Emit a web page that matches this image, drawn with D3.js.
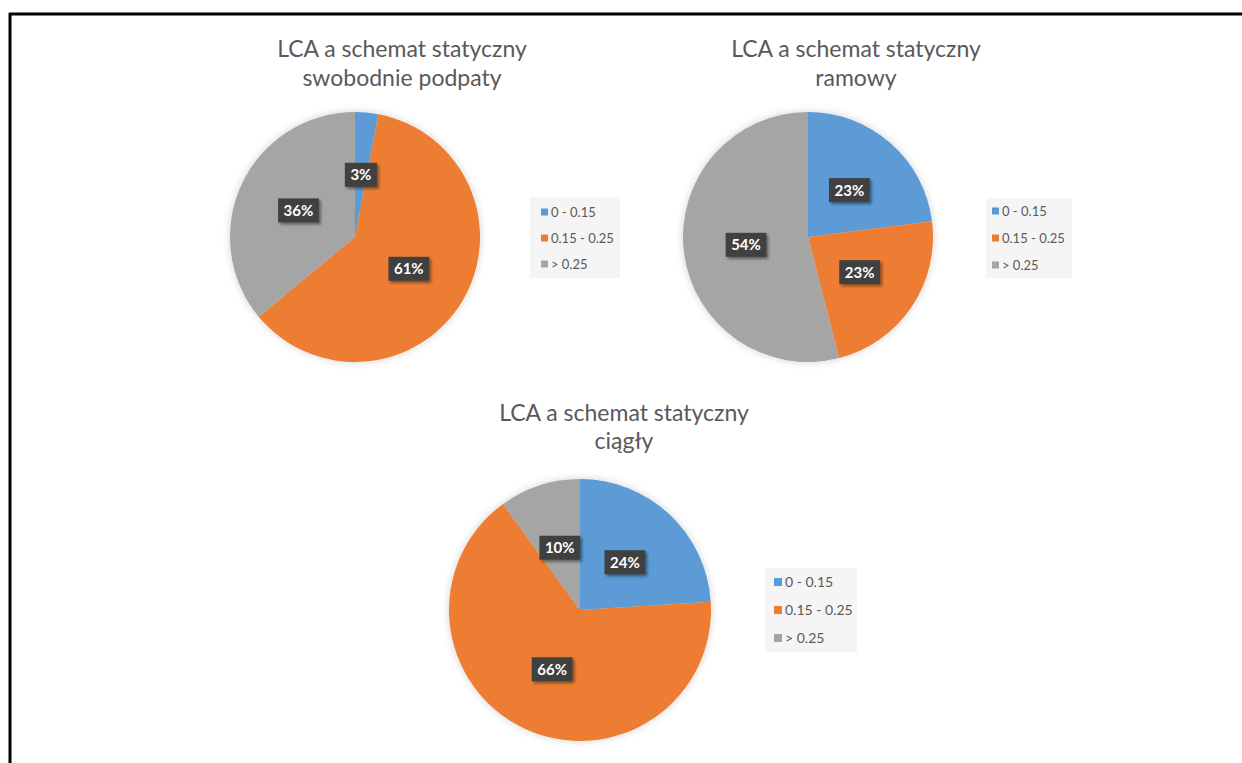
<!DOCTYPE html>
<html>
<head>
<meta charset="utf-8">
<script src="https://cdn.jsdelivr.net/npm/d3@7/dist/d3.min.js"></script>
<style>
  html, body { margin: 0; padding: 0; background: #ffffff; }
  svg { display: block; }
</style>
</head>
<body>
<svg id="chart" width="1242" height="763"></svg>
<script>
// Share of LCA index ranges for three structural schemes
const categories = ["0 - 0.15", "0.15 - 0.25", "> 0.25"];
const sliceColors = ["#5b9bd5", "#ed7d31", "#a5a5a5"];

const titleSwobodnie = ["LCA a schemat statyczny", "swobodnie podpaty"];
const titleRamowy = ["LCA a schemat statyczny", "ramowy"];
const titleCiagly = ["LCA a schemat statyczny", "ciągły"];

const valuesSwobodnie = [3, 61, 36];
const valuesRamowy = [23, 23, 54];
const valuesCiagly = [24, 66, 10];

// Placement of each pie panel
const panels = [
  { title: titleSwobodnie, values: valuesSwobodnie, cx: 355, cy: 237, r: 125,
    titleX: 402, titleY: 57, lineGap: 29, titleSize: 23,
    legend: { x: 530, y: 197, w: 90, h: 81, sq: 7, rows: [212, 238, 264], textX: 551, size: 13 } },
  { title: titleRamowy, values: valuesRamowy, cx: 808, cy: 237, r: 125,
    titleX: 856, titleY: 57, lineGap: 29, titleSize: 23,
    legend: { x: 986, y: 198, w: 86, h: 80, sq: 7, rows: [211, 238, 265], textX: 1002, size: 13 } },
  { title: titleCiagly, values: valuesCiagly, cx: 580, cy: 610, r: 131,
    titleX: 624, titleY: 421, lineGap: 28, titleSize: 23,
    legend: { x: 765, y: 568, w: 92, h: 84, sq: 8, rows: [582, 610, 638], textX: 785, size: 14 } }
];

const svg = d3.select("#chart");

const defs = svg.append("defs");
const pieShadow = defs.append("filter").attr("id", "pieShadow")
  .attr("x", "-20%").attr("y", "-20%").attr("width", "140%").attr("height", "140%");
pieShadow.append("feGaussianBlur").attr("in", "SourceAlpha").attr("stdDeviation", 4).attr("result", "b");
pieShadow.append("feComponentTransfer").attr("in", "b").attr("result", "s")
  .append("feFuncA").attr("type", "linear").attr("slope", 0.18);
const m1 = pieShadow.append("feMerge");
m1.append("feMergeNode").attr("in", "s");
m1.append("feMergeNode").attr("in", "SourceGraphic");

const boxShadow = defs.append("filter").attr("id", "boxShadow")
  .attr("x", "-30%").attr("y", "-40%").attr("width", "170%").attr("height", "190%");
boxShadow.append("feGaussianBlur").attr("in", "SourceAlpha").attr("stdDeviation", 1.5).attr("result", "b");
boxShadow.append("feOffset").attr("in", "b").attr("dx", 2).attr("dy", 2).attr("result", "o");
boxShadow.append("feComponentTransfer").attr("in", "o").attr("result", "s")
  .append("feFuncA").attr("type", "linear").attr("slope", 0.45);
const m2 = boxShadow.append("feMerge");
m2.append("feMergeNode").attr("in", "s");
m2.append("feMergeNode").attr("in", "SourceGraphic");

// Frame lines along the top and left edges
svg.append("line").attr("x1", 9).attr("y1", 14).attr("x2", 1242).attr("y2", 14)
  .attr("stroke", "#000").attr("stroke-width", 3);
svg.append("line").attr("x1", 10).attr("y1", 13).attr("x2", 10).attr("y2", 763)
  .attr("stroke", "#000").attr("stroke-width", 3);

const color = d3.scaleOrdinal().domain(categories).range(sliceColors);
const pie = d3.pie().sort(null).value(d => d.value);

panels.forEach(p => {
  const g = svg.append("g");

  // Title
  const title = g.append("text")
    .attr("x", p.titleX).attr("y", p.titleY)
    .attr("text-anchor", "middle")
    .attr("font-family", "Lato, 'Open Sans', sans-serif")
    .attr("font-size", p.titleSize)
    .attr("fill", "#595959");
  p.title.forEach((line, i) => {
    title.append("tspan").attr("x", p.titleX).attr("y", p.titleY + i * p.lineGap).text(line);
  });

  // Slices
  const data = categories.map((c, i) => ({ cat: c, value: p.values[i] }));
  const arcs = pie(data);
  const arc = d3.arc().innerRadius(0).outerRadius(p.r);

  const pg = g.append("g").attr("transform", `translate(${p.cx},${p.cy})`);
  pg.append("g").attr("filter", "url(#pieShadow)")
    .selectAll("path").data(arcs).join("path")
    .attr("d", arc)
    .attr("fill", d => color(d.data.cat));

  // Data labels in dark boxes
  const lbl = pg.selectAll("g.lbl").data(arcs).join("g").attr("class", "lbl")
    .attr("transform", d => `translate(${arc.centroid(d)})`);
  lbl.each(function (d) {
    const el = d3.select(this);
    const rect = el.append("rect").attr("fill", "#404040").attr("filter", "url(#boxShadow)");
    const t = el.append("text")
      .attr("text-anchor", "middle").attr("dy", "0.36em")
      .attr("font-family", "Lato, 'Open Sans', sans-serif")
      .attr("font-weight", 700).attr("font-size", 15)
      .attr("fill", "#ffffff")
      .text(d.data.value + "%");
    const w = t.node().getComputedTextLength() + 11;
    const h = 24;
    rect.attr("x", -w / 2).attr("y", -h / 2).attr("width", w).attr("height", h);
  });

  // Legend
  const L = p.legend;
  const lg = g.append("g");
  lg.append("rect").attr("x", L.x).attr("y", L.y).attr("width", L.w).attr("height", L.h)
    .attr("fill", "#f5f5f5");
  const items = lg.selectAll("g.item").data(categories).join("g").attr("class", "item");
  items.append("rect")
    .attr("x", L.textX - L.sq - 3)
    .attr("y", (d, i) => L.rows[i] - L.sq / 2)
    .attr("width", L.sq).attr("height", L.sq)
    .attr("fill", d => color(d));
  items.append("text")
    .attr("x", L.textX)
    .attr("y", (d, i) => L.rows[i])
    .attr("dy", "0.35em")
    .attr("font-family", "Lato, 'Open Sans', sans-serif")
    .attr("font-size", L.size)
    .attr("fill", "#595959")
    .text(d => d);
});
</script>
</body>
</html>
